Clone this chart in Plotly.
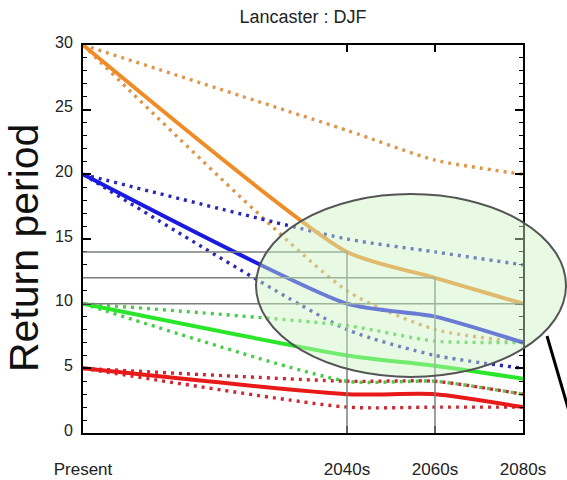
import plotly.graph_objects as go

# ---- data ----
years = [1980, 2040, 2060, 2080]
period_labels = ["Present", "2040s", "2060s", "2080s"]

orange_mid = [30, 14, 12, 10]
orange_hi = [30, 23.4, 21.1, 20]
orange_lo = [30, 11, 8, 7]

blue_mid = [20, 10, 9, 7]
blue_hi = [20, 15, 14, 13]
blue_lo = [20, 8, 6, 5]

green_mid = [10, 6, 5.2, 4.2]
green_hi = [10, 8.3, 7.1, 7]
green_lo = [10, 4, 4, 3]

red_mid = [5, 3, 3, 2]
red_hi = [5, 4, 4, 3]
red_lo = [5, 2, 2, 2]

W, H = 567, 480
L, R, T, B = 83, 44, 45, 47

series = [
    (orange_hi, "rgb(222,150,75)", "dot"), (orange_lo, "rgb(222,150,75)", "dot"),
    (blue_hi, "rgb(40,40,180)", "dot"), (blue_lo, "rgb(40,40,180)", "dot"),
    (green_hi, "rgb(70,205,70)", "dot"), (green_lo, "rgb(70,205,70)", "dot"),
    (red_hi, "rgb(205,40,50)", "dot"), (red_lo, "rgb(205,40,50)", "dot"),
    (orange_mid, "rgb(240,140,40)", "solid"),
    (blue_mid, "rgb(25,25,225)", "solid"),
    (green_mid, "rgb(40,230,40)", "solid"),
    (red_mid, "rgb(232,25,25)", "solid"),
]

fig = go.Figure()
for vals, col, style in series:
    if style == "dot":
        line = dict(color=col, width=3.4, dash="3px,5px", shape="spline", smoothing=0.6)
    else:
        line = dict(color=col, width=4, shape="spline", smoothing=0.6)
    fig.add_trace(go.Scatter(x=years, y=vals, mode="lines", line=line,
                             showlegend=False, hoverinfo="skip"))

shapes = []
gray = "rgb(120,128,120)"
# reference lines tied to the central orange projection
for yr, v in zip(years[1:], orange_mid[1:]):
    shapes.append(dict(type="line", xref="x", yref="y", x0=years[0], x1=yr, y0=v, y1=v,
                       line=dict(color=gray, width=1.5), layer="above"))
    if yr != years[-1]:
        shapes.append(dict(type="line", xref="x", yref="y", x0=yr, x1=yr, y0=0, y1=v,
                           line=dict(color=gray, width=1.5), layer="above"))

pw, ph = W - L - R, H - T - B
def px(X):
    return (X - L) / pw
def py(Y):
    return (H - B - Y) / ph

shapes.append(dict(type="circle", xref="paper", yref="paper",
                   x0=px(256), x1=px(566), y0=py(377), y1=py(194),
                   fillcolor="rgba(205,245,195,0.45)",
                   line=dict(color="rgb(85,85,85)", width=2), layer="above"))
shapes.append(dict(type="line", xref="paper", yref="paper",
                   x0=px(547), y0=py(336), x1=px(573), y1=py(425),
                   line=dict(color="black", width=3), layer="above"))

fig.update_layout(
    width=W, height=H,
    margin=dict(l=L, r=R, t=T, b=B, autoexpand=False),
    paper_bgcolor="white", plot_bgcolor="white",
    font=dict(family="Liberation Sans, Arial, sans-serif", color="#222"),
    title=dict(text="Lancaster : DJF", x=(L + pw / 2) / W, xanchor="center",
               y=1 - 17 / H, yanchor="middle", font=dict(size=18, color="#222")),
    shapes=shapes,
    annotations=[dict(text="Return period", xref="paper", yref="paper",
                      x=px(24), y=py(248), xanchor="center", yanchor="middle",
                      textangle=-90, showarrow=False,
                      font=dict(size=41, color="#111"))],
)

fig.update_xaxes(
    range=[1980, 2080], tickvals=years, ticktext=period_labels,
    showgrid=False, zeroline=False, automargin=False,
    showline=True, linecolor="black", linewidth=2, mirror="ticks",
    ticks="inside", ticklen=7, tickcolor="black", tickwidth=1.5,
    tickfont=dict(size=17, color="#222"), ticklabelstandoff=20,
)
fig.update_yaxes(
    range=[0, 30], tickvals=[0, 5, 10, 15, 20, 25, 30],
    showgrid=False, zeroline=False, automargin=False,
    showline=True, linecolor="black", linewidth=2, mirror="ticks",
    ticks="inside", ticklen=8, tickcolor="black", tickwidth=1.5,
    minor=dict(dtick=1, ticks="inside", ticklen=4, tickcolor="black", tickwidth=1.2),
    tickfont=dict(size=16, color="#222"), ticklabelstandoff=5, ticklabelshift=-3,
)

fig.write_html("out.html")
